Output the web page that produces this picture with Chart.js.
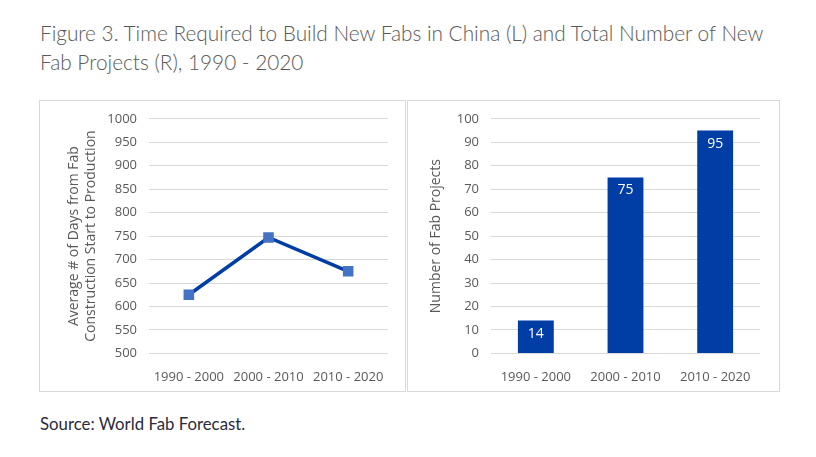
<!DOCTYPE html>
<html>
<head>
<meta charset="utf-8">
<script src="https://cdn.jsdelivr.net/npm/chart.js@4/dist/chart.umd.min.js"></script>
<style>
  body { margin: 0; background: #fff; width: 816px; height: 457px; position: relative; font-family: Lato, sans-serif; }
  .title { position: absolute; left: 40px; top: 18px; font-size: 20.8px; font-weight: 300; line-height: 29px; color: #595959; }
  .panel { position: absolute; top: 100px; height: 292px; border: 1px solid #d9d9d9; box-sizing: border-box; }
  .panel canvas { display: block; margin-top: -2px; }
  .source { position: absolute; left: 40px; top: 413px; font-size: 16.8px; font-weight: 400; color: #2b2b3a; }
</style>
</head>
<body>
<div class="title">Figure 3. Time Required to Build New Fabs in China (L) and Total Number of New<br>Fab Projects (R), 1990 - 2020</div>
<div class="panel" style="left:39px;width:367px"><canvas id="left" width="365" height="302"></canvas></div>
<div class="panel" style="left:407px;width:373px"><canvas id="right" width="371" height="302"></canvas></div>
<div class="source">Source: World Fab Forecast.</div>
<script>
// ===== Figure 3: fab build time (L) and fab project counts (R) =====

const periods = ['1990 - 2000', '2000 - 2010', '2010 - 2020'];
const daysToProduction = [625, 747, 675];
const fabProjects = [14, 75, 95];

const tickColor = '#595959';
const gridColor = '#d9d9d9';
const blue = '#003da5';
const font = '"Open Sans", sans-serif';

/** Draw value labels inside the top of each bar */
const barValueLabels = {
    id: 'barValueLabels',
    afterDatasetsDraw(chart) {
        const ctx = chart.ctx;
        const meta = chart.getDatasetMeta(0);
        ctx.save();
        ctx.fillStyle = '#ffffff';
        ctx.font = '14px ' + font;
        ctx.textAlign = 'center';
        ctx.textBaseline = 'middle';
        meta.data.forEach((bar, i) => {
            ctx.fillText(String(fabProjects[i]), bar.x, bar.y + 13);
        });
        ctx.restore();
    },
};

function axisOptions(min, max, step, title, titleGap, yWidth) {
    return {
        x: {
            offset: true,
            grid: { display: false, drawTicks: false },
            border: { display: false },
            ticks: { color: tickColor, font: { size: 13, family: font }, padding: 16 },
        },
        y: {
            min, max,
            grid: { color: gridColor, drawTicks: false },
            border: { display: false },
            ticks: {
                stepSize: step,
                color: tickColor,
                font: { size: 13, family: font },
                padding: 12,
                callback: (v) => String(v),
            },
            title: {
                display: true,
                text: title,
                color: tickColor,
                font: { size: 14, family: font },
                padding: { top: 0, bottom: titleGap },
            },
            afterFit: (scale) => { scale.width = yWidth; },
        },
    };
}

const base = {
    responsive: false,
    animation: false,
    plugins: { legend: { display: false }, tooltip: { enabled: false } },
};

new Chart(document.getElementById('left'), {
    type: 'line',
    data: {
        labels: periods,
        datasets: [{
            data: daysToProduction,
            borderColor: blue,
            borderWidth: 3.5,
            pointStyle: 'rect',
            pointRadius: 5,
            pointBackgroundColor: '#4472c4',
            pointBorderColor: '#4472c4',
            tension: 0,
        }],
    },
    options: {
        ...base,
        layout: { padding: { left: 26, right: 17, top: 8, bottom: 0 } },
        scales: axisOptions(500, 1000, 50, ['Average # of Days from Fab', 'Construction Start to Production'], 4, 83),
    },
});

new Chart(document.getElementById('right'), {
    type: 'bar',
    data: {
        labels: periods,
        datasets: [{
            data: fabProjects,
            backgroundColor: blue,
            barPercentage: 0.4,
            categoryPercentage: 1,
        }],
    },
    options: {
        ...base,
        layout: { padding: { left: 20, right: 19, top: 8, bottom: 0 } },
        scales: axisOptions(0, 100, 10, 'Number of Fab Projects', 8, 63),
    },
    plugins: [barValueLabels],
});
</script>
</body>
</html>
